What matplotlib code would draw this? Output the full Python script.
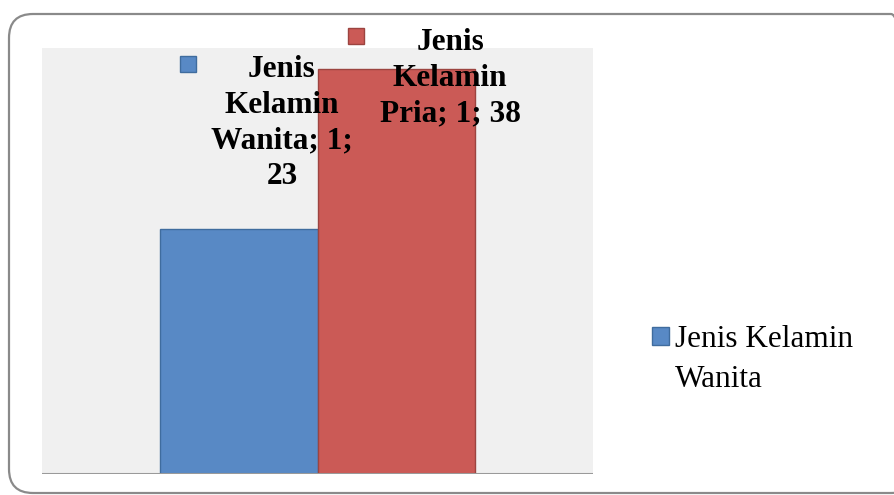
import matplotlib
matplotlib.use("Agg")
import matplotlib.pyplot as plt
import matplotlib.transforms as mtransforms
from matplotlib.patches import FancyBboxPatch
import numpy as np

# data
categories = ["1"]
series_names = ["Jenis Kelamin Wanita", "Jenis Kelamin Pria"]
values = [23, 38]

BLUE, BLUE_EDGE = "#5889c5", "#3f6c9e"
RED, RED_EDGE = "#cb5a56", "#9c4440"
SERIF = "Liberation Serif"

fig = plt.figure(figsize=(8.94, 4.95), dpi=100, facecolor="white")
ax = fig.add_axes([0.047, 0.0424, 0.6163, 0.8606])
ax.set_facecolor("#f0f0f0")

# rounded outer frame in pixel space (runs off the right edge)
frame = FancyBboxPatch((9, 2), 906, 479, boxstyle="round,pad=0,rounding_size=24",
                       transform=mtransforms.IdentityTransform(),
                       facecolor="none", edgecolor="#8a8a8a", linewidth=1.6,
                       zorder=0)
fig.patches.append(frame)

x = np.arange(len(categories))
width = 0.285
offsets = [-width / 2, width / 2]
colors = [BLUE, RED]
edges = [BLUE_EDGE, RED_EDGE]

bars = []
for name, val, off, c, ec in zip(series_names, values, offsets, colors, edges):
    b = ax.bar(x + off, [val], width=width, color=c, edgecolor=ec,
               linewidth=1.0, label=name, zorder=2)
    bars.append(b)

ax.set_xlim(-0.5, 0.5)
ax.set_ylim(0, 40)
ax.set_xticks([])
ax.set_yticks([])
for s in ax.spines.values():
    s.set_visible(False)
ax.axhline(0, color="#9a9a9a", linewidth=2.2, zorder=3)

# data labels (series; category; value) with legend keys, offsets in pixels
label_text_off = [(43, 106), (54, -9)]
label_key_off = [(-51, 165), (-40, 33)]
for name, val, off, c, ec, toff, koff in zip(series_names, values, offsets, colors,
                                             edges, label_text_off, label_key_off):
    words = name.split()
    if val < 30:
        txt = f"{words[0]}\n{words[1]}\n{words[2]}; {categories[0]};\n{val}"
    else:
        txt = f"{words[0]}\n{words[1]}\n{words[2]}; {categories[0]}; {val}"
    ax.annotate(txt, xy=(x[0] + off, val), xytext=toff, textcoords="offset pixels",
                ha="center", va="center", fontsize=22.5, fontweight="bold",
                family=SERIF, linespacing=1.3, annotation_clip=False, zorder=5)
    tr = mtransforms.offset_copy(ax.transData, fig=fig, x=koff[0], y=koff[1],
                                 units="dots")
    ax.plot([x[0] + off], [val], marker="s", markersize=12, color=c,
            markeredgecolor=ec, markeredgewidth=1.0, transform=tr,
            clip_on=False, zorder=5)

# legend (only the first series is listed, as in the original)
leg = fig.legend(handles=[bars[0]], labels=["Jenis Kelamin"],
                 loc="center left", bbox_to_anchor=(0.7293, 0.314),
                 frameon=False, handlelength=0.54, handleheight=0.54,
                 handletextpad=0.2, borderaxespad=0, borderpad=0,
                 prop={"family": SERIF, "size": 22.5})
fig.canvas.draw()
ext = leg.get_texts()[0].get_window_extent()
fig.text(ext.x0, ext.y0 - 40, "Wanita", transform=mtransforms.IdentityTransform(),
         ha="left", va="bottom", family=SERIF, fontsize=22.5)

fig.savefig("out.png", dpi=100, facecolor="white")
